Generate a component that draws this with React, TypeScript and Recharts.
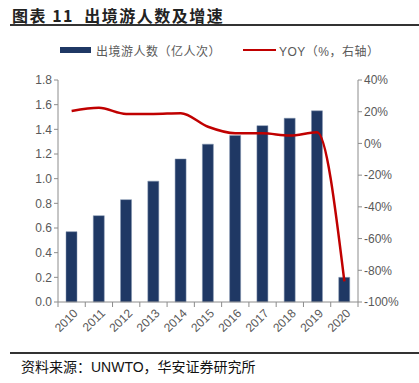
import React from 'react';
import { ComposedChart, Bar, Line, XAxis, YAxis } from 'recharts';

const years = ['2010', '2011', '2012', '2013', '2014', '2015', '2016', '2017', '2018', '2019', '2020'];
const travelers = [0.57, 0.70, 0.83, 0.98, 1.16, 1.28, 1.35, 1.43, 1.49, 1.55, 0.20];
const yoy = [20.5, 22.5, 18.6, 18.6, 19.0, 10.5, 6.4, 6.4, 5.0, 7.0, -87];
const leftTicks = [0, 0.2, 0.4, 0.6, 0.8, 1.0, 1.2, 1.4, 1.6, 1.8];
const rightTicks = [-100, -80, -60, -40, -20, 0, 20, 40];

const data = years.map((y, i) => ({ year: y, travelers: travelers[i], yoy: yoy[i] }));

const FONT = 'Arial, "Liberation Sans", "Noto Sans CJK SC", sans-serif';
const AXIS = '#8c8c8c';
const TEXT = '#595959';

const XTick = (props: any) => {
  const { x, y, payload, index } = props;
  const band = 300 / years.length;
  const ax = x + 4;
  const ay = y + 9;
  return (
    <g>
      <line x1={x - band / 2} x2={x - band / 2} y1={y} y2={y + 5} stroke={AXIS} strokeWidth={1} />
      {index === years.length - 1 && (
        <line x1={x + band / 2} x2={x + band / 2} y1={y} y2={y + 5} stroke={AXIS} strokeWidth={1} />
      )}
      <text
        x={ax}
        y={ay}
        dy="0.35em"
        textAnchor="end"
        transform={`rotate(-45 ${ax} ${ay})`}
        fontSize={12}
        fill={TEXT}
        fontFamily={FONT}
      >
        {payload.value}
      </text>
    </g>
  );
};

export default function App() {
  return (
    <div style={{ position: 'absolute', left: 0, top: 0, width: 419, height: 383, background: '#fff', fontFamily: FONT }}>
      <div style={{ position: 'absolute', left: 12, top: 3, fontSize: 16, letterSpacing: 1.5, fontWeight: 'bold', color: '#222', whiteSpace: 'nowrap', fontFamily: '"Noto Sans CJK SC", sans-serif' }}>
        图表 11&nbsp;&nbsp;出境游人数及增速
      </div>
      <div style={{ position: 'absolute', left: 10, top: 24, width: 409, height: 1.5, background: '#333' }} />
      <ComposedChart
        width={419}
        height={383}
        data={data}
        margin={{ top: 80, right: 11, left: 18, bottom: 41 }}
        style={{ position: 'absolute', left: 0, top: 0 }}
      >
        <XAxis
          dataKey="year"
          height={40}
          axisLine={{ stroke: AXIS }}
          tickLine={false}
          tickSize={0}
          tickMargin={0}
          tick={<XTick />}
          interval={0}
        />
        <YAxis
          yAxisId="left"
          width={40}
          domain={[0, 1.8]}
          ticks={leftTicks}
          tickFormatter={(v: number) => v.toFixed(1)}
          axisLine={{ stroke: AXIS }}
          tickLine={{ stroke: AXIS }}
          tickSize={4}
          tick={{ fontSize: 12, fill: TEXT, fontFamily: FONT }}
        />
        <YAxis
          yAxisId="right"
          orientation="right"
          width={50}
          domain={[-100, 40]}
          ticks={rightTicks}
          tickFormatter={(v: number) => `${v}%`}
          axisLine={{ stroke: AXIS }}
          tickLine={{ stroke: AXIS }}
          tickSize={4}
          tick={{ fontSize: 12, fill: TEXT, fontFamily: FONT }}
        />
        <Bar yAxisId="left" dataKey="travelers" fill="#1F3864" stroke="#8497B0" strokeWidth={0.5} barSize={11} isAnimationActive={false} />
        <Line yAxisId="right" dataKey="yoy" type="monotone" stroke="#C00000" strokeWidth={2.5} dot={false} isAnimationActive={false} />
      </ComposedChart>
      <div style={{ position: 'absolute', left: 0, top: 40, width: 419, height: 20, fontFamily: FONT, fontSize: 12, color: TEXT }}>
        <div style={{ position: 'absolute', left: 60, top: 7, width: 31, height: 6, background: '#1F3864' }} />
        <div style={{ position: 'absolute', left: 96, top: 2, whiteSpace: 'nowrap', letterSpacing: 0.5 }}>出境游人数（亿人次）</div>
        <div style={{ position: 'absolute', left: 243, top: 9, width: 33, height: 2, background: '#C00000' }} />
        <div style={{ position: 'absolute', left: 279, top: 2, whiteSpace: 'nowrap', letterSpacing: 0.5 }}>YOY（%，右轴）</div>
      </div>
      <div style={{ position: 'absolute', left: 10, top: 352, width: 409, height: 1.5, background: '#333' }} />
      <div style={{ position: 'absolute', left: 21, top: 356, fontSize: 14, color: '#111', whiteSpace: 'nowrap', fontFamily: FONT }}>
        资料来源：UNWTO，华安证券研究所
      </div>
    </div>
  );
}
